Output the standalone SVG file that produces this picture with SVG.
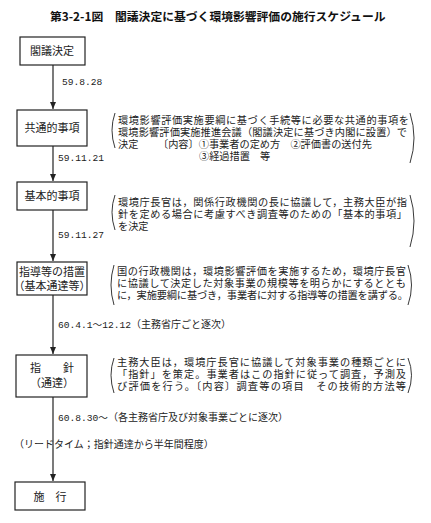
<svg xmlns="http://www.w3.org/2000/svg" width="431" height="523" viewBox="0 0 431 523">
<defs>
<style>
.bg{fill:#fff}
.box{fill:#fff;stroke:#222;stroke-width:1.2}
.lbl{font-family:"Noto Sans CJK JP","Noto Sans CJK SC",sans-serif;font-size:11px;fill:#222;text-anchor:middle}
.t{font-family:"Noto Sans CJK JP","Noto Sans CJK SC",sans-serif;font-size:10.2px;fill:#222}
.d{font-family:"Liberation Mono","Noto Sans CJK JP",monospace;font-size:9.6px;fill:#222}
.title{font-family:"Noto Sans CJK JP","Noto Sans CJK SC",sans-serif;font-size:11.8px;font-weight:bold;fill:#111}
.ln{stroke:#222;stroke-width:1.2;fill:none}
.par{stroke:#222;stroke-width:0.9;fill:none}
</style>
<marker id="ah" markerWidth="8" markerHeight="8" refX="7" refY="4" orient="auto" markerUnits="userSpaceOnUse">
<path d="M0,1 L7,4 L0,7 Z" fill="#222"/>
</marker>
</defs>
<rect class="bg" width="431" height="523"/>
<text class="title" x="50" y="21">第3-2-1図　閣議決定に基づく環境影響評価の施行スケジュール</text>

<g id="connectors">
<line class="ln" x1="53" y1="65" x2="53" y2="109" marker-end="url(#ah)"/>
<line class="ln" x1="53" y1="146" x2="53" y2="181" marker-end="url(#ah)"/>
<line class="ln" x1="53" y1="210" x2="53" y2="261" marker-end="url(#ah)"/>
<line class="ln" x1="53" y1="295" x2="53" y2="354" marker-end="url(#ah)"/>
<line class="ln" x1="53" y1="397" x2="53" y2="481" marker-end="url(#ah)"/>
<text class="d" x="62" y="85">59.8.28</text>
<text class="d" x="58" y="161">59.11.21</text>
<text class="d" x="58" y="238">59.11.27</text>
<text class="d" x="58" y="328">60.4.1～12.12<tspan class="t" style="font-size:10px">（主務省庁ごと逐次）</tspan></text>
<text class="d" x="58" y="421">60.8.30～<tspan class="t" style="font-size:10px">（各主務省庁及び対象事業ごとに逐次）</tspan></text>
<text class="t" x="14" y="448" style="font-size:10px">（リードタイム；指針通達から半年間程度）</text>
</g>

<g id="n1">
<rect class="box" x="20" y="37" width="65" height="28"/>
<text class="lbl" x="52" y="55">閣議決定</text>
</g>

<g id="n2">
<rect class="box" x="17" y="110" width="70" height="36"/>
<text class="lbl" x="52" y="132">共通的事項</text>
<path class="par" d="M115,113 Q109,130 115,148"/>
<text class="t" x="118" y="124" textLength="291" lengthAdjust="spacing">環境影響評価実施要綱に基づく手続等に必要な共通的事項を</text>
<text class="t" x="118" y="136" textLength="289" lengthAdjust="spacing">環境影響評価実施推進会議（閣議決定に基づき内閣に設置）で</text>
<text class="t" x="118" y="148">決定</text>
<text class="t" x="158" y="148">〔内容〕①事業者の定め方　②評価書の送付先</text>
<text class="t" x="199" y="160">③経過措置　等</text>
<path class="par" d="M410,113 Q418,138 410,163"/>
</g>

<g id="n3">
<rect class="box" x="17" y="182" width="70" height="28"/>
<text class="lbl" x="52" y="200">基本的事項</text>
<path class="par" d="M115,195 Q109,212 115,230"/>
<text class="t" x="118" y="206" textLength="289" lengthAdjust="spacing">環境庁長官は，関係行政機関の長に協議して，主務大臣が指</text>
<text class="t" x="118" y="218" textLength="289" lengthAdjust="spacing">針を定める場合に考慮すべき調査等のための「基本的事項」</text>
<text class="t" x="118" y="230">を決定</text>
<path class="par" d="M410,195 Q418,221 410,247"/>
</g>

<g id="n4">
<rect class="box" x="17" y="262" width="70" height="33"/>
<text class="lbl" x="52" y="276">指導等の措置</text>
<text class="lbl" x="52" y="290">（基本通達等）</text>
<path class="par" d="M114,265 Q108,285 114,305"/>
<text class="t" x="117" y="275" textLength="289" lengthAdjust="spacing">国の行政機関は，環境影響評価を実施するため，環境庁長官</text>
<text class="t" x="117" y="287" textLength="289" lengthAdjust="spacing">に協議して決定した対象事業の規模等を明らかにするととも</text>
<text class="t" x="117" y="299" textLength="291" lengthAdjust="spacing">に，実施要綱に基づき，事業者に対する指導等の措置を講ずる。</text>
<path class="par" d="M408,265 Q415,285 408,305"/>
</g>

<g id="n5">
<rect class="box" x="16" y="355" width="71" height="42"/>
<text class="lbl" x="52" y="372">指　　針</text>
<text class="lbl" x="52" y="387">（通達）</text>
<path class="par" d="M114,358 Q108,375 114,393"/>
<text class="t" x="117" y="366" textLength="289" lengthAdjust="spacing">主務大臣は，環境庁長官に協議して対象事業の種類ごとに</text>
<text class="t" x="117" y="378" textLength="289" lengthAdjust="spacing">「指針」を策定。事業者はこの指針に従って調査，予測及</text>
<text class="t" x="117" y="390" textLength="289" lengthAdjust="spacing">び評価を行う。〔内容〕調査等の項目　その技術的方法等</text>
<path class="par" d="M408,358 Q415,375 408,393"/>
</g>

<g id="n6">
<rect class="box" x="15" y="482" width="70" height="28"/>
<text class="lbl" x="50" y="501">施　行</text>
</g>
</svg>
